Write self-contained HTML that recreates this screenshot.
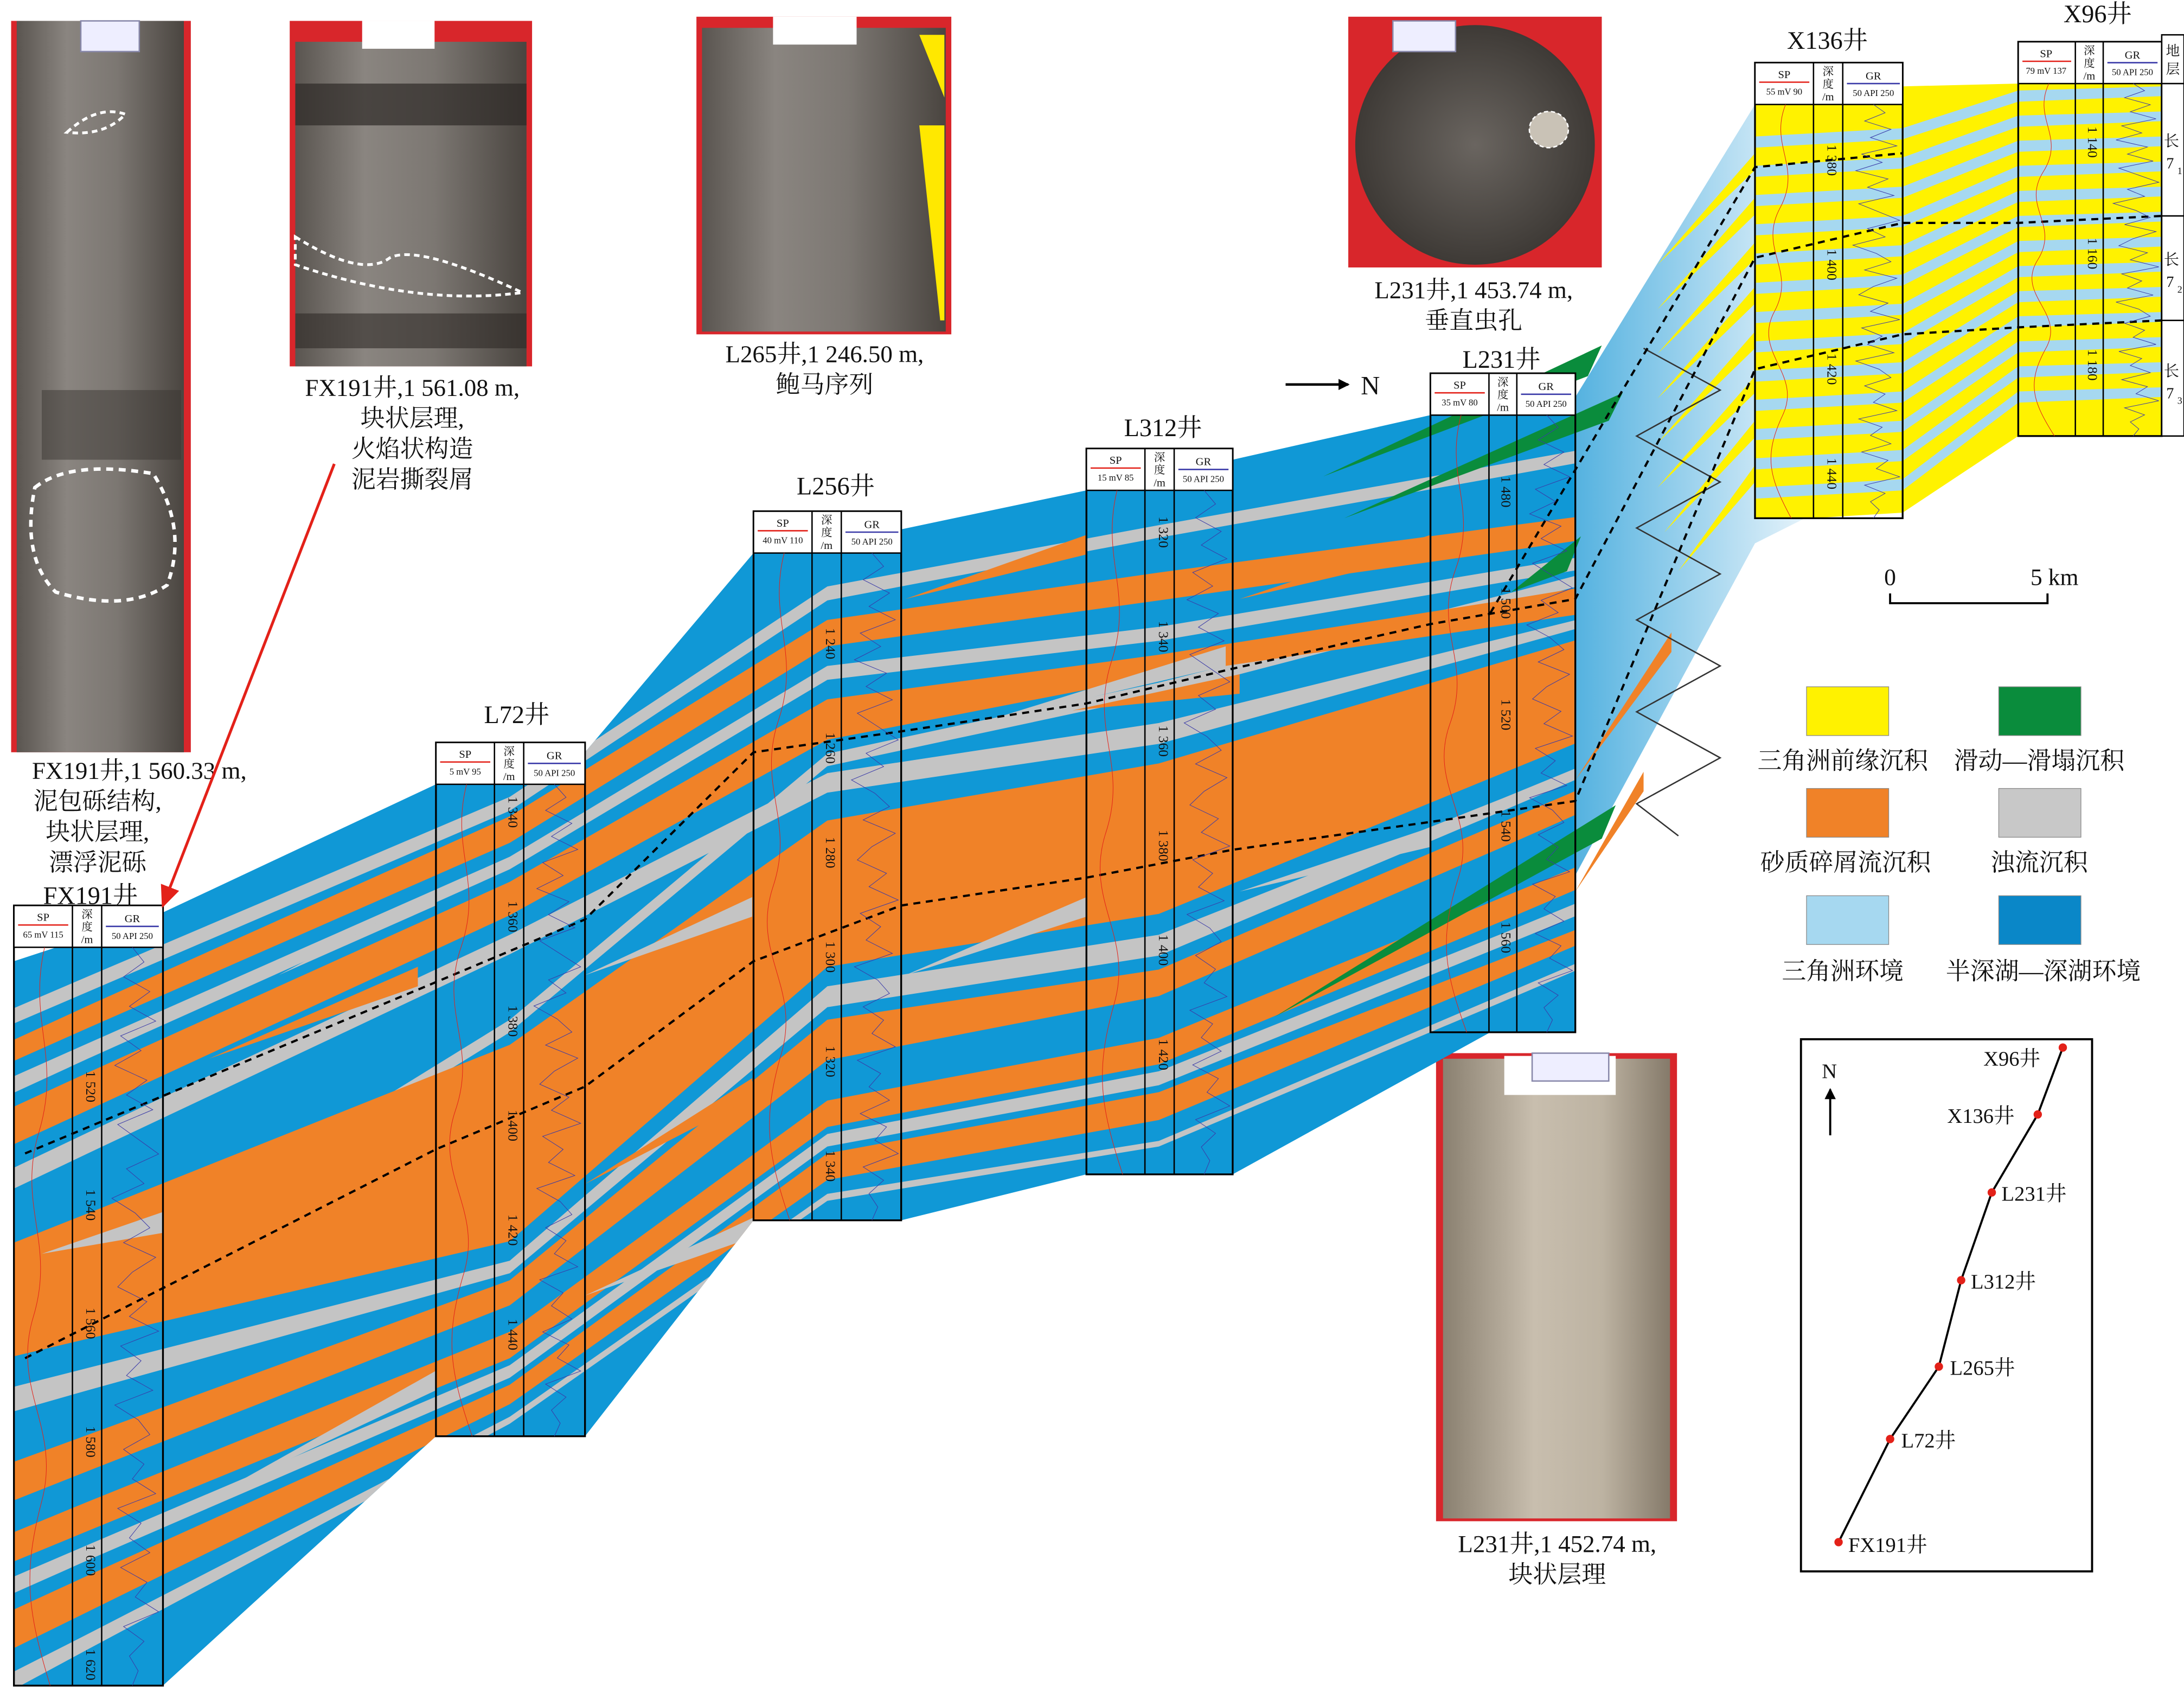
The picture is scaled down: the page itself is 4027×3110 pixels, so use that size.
<!DOCTYPE html>
<html><head><meta charset="utf-8">
<style>
html,body{margin:0;padding:0;background:#fff;}
svg{display:block;}
text{font-family:"Liberation Serif","Noto Serif CJK SC","Noto Sans CJK SC",serif;fill:#111;}
</style></head>
<body>
<svg xmlns="http://www.w3.org/2000/svg" xmlns:xlink="http://www.w3.org/1999/xlink" width="4027" height="3110" viewBox="0 0 1568 1211" preserveAspectRatio="none">
<defs>
<linearGradient id="gr" x1="0" y1="0" x2="1" y2="0">
<stop offset="0" stop-color="#1f9ad6"/><stop offset="1" stop-color="#e8f4fb"/>
</linearGradient>
<linearGradient id="cyl" x1="0" y1="0" x2="1" y2="0">
<stop offset="0" stop-color="#5a5550"/><stop offset="0.3" stop-color="#8a8580"/><stop offset="0.6" stop-color="#7c7772"/><stop offset="1" stop-color="#4a4540"/>
</linearGradient>
<linearGradient id="cyl2" x1="0" y1="0" x2="1" y2="0">
<stop offset="0" stop-color="#8a8070"/><stop offset="0.4" stop-color="#c8beae"/><stop offset="0.7" stop-color="#bdb3a2"/><stop offset="1" stop-color="#857a6a"/>
</linearGradient>
<radialGradient id="disc"><stop offset="0" stop-color="#6a6560"/><stop offset="1" stop-color="#3e3a36"/></radialGradient>
<marker id="ah" markerWidth="8" markerHeight="8" refX="7" refY="4" orient="auto" markerUnits="userSpaceOnUse"><path d="M0,0 L8,4 L0,8 z" fill="#000"/></marker>
<marker id="ahr" markerWidth="16" markerHeight="14" refX="14" refY="7" orient="auto" markerUnits="userSpaceOnUse"><path d="M0,0 L16,7 L0,14 z" fill="#e32119"/></marker>
<path id="gr1" d="M10,0 L14,2 L7,4 L16,6 L9,8 L18,10 L6,12 L13,14 L4,16 L15,18 L8,20 L17,22 L5,24 L12,26 L19,28 L8,30 L14,32 L3,34 L11,36 L16,38 L7,40 L18,42 L10,44 L5,46 L15,48 L9,50 L19,52 L6,54 L13,56 L8,58 L17,60 L4,62 L12,64 L16,66 L7,68 L14,70 L10,72 L18,74 L5,76 L13,78 L9,80 L16,82 L6,84 L15,86 L11,88 L19,90 L7,92 L14,94 L9,96 L12,98 L10,100" fill="none" stroke="#3a3aa8" stroke-width="1" vector-effect="non-scaling-stroke"/>
<path id="sp1" d="M10,0 C4,10 16,15 8,25 S14,40 6,50 S16,65 9,75 S4,90 12,100" fill="none" stroke="#e32119" stroke-width="1" vector-effect="non-scaling-stroke"/>
<clipPath id="sec"><polygon points="10,690 117,655 313,563 420,540 541,397 647,380 780,352 885,330 1027,298 1131,285 1131,741 1070,741 885,843 780,843 647,876 541,876 420,1031 313,1031 117,1210 10,1210"/></clipPath>
</defs>

<!-- photos -->
<rect x="8" y="15" width="129" height="525" fill="#d8262b"/>
<rect x="12" y="15" width="120" height="525" fill="url(#cyl)"/>
<path d="M48,95 Q70,75 90,82 Q75,98 48,95z" fill="none" stroke="#fff" stroke-width="2" stroke-dasharray="4,3"/>
<path d="M25,350 Q50,330 110,340 Q135,380 120,420 Q90,440 40,425 Q15,400 25,350z" fill="none" stroke="#fff" stroke-width="2.5" stroke-dasharray="5,4"/>
<rect x="30" y="280" width="100" height="50" fill="#3a3632" opacity="0.5"/>
<rect x="208" y="15" width="174" height="248" fill="#d8262b"/>
<rect x="212" y="30" width="166" height="233" fill="url(#cyl)"/>
<rect x="212" y="60" width="166" height="30" fill="#2e2a26" opacity="0.7"/>
<rect x="212" y="225" width="166" height="25" fill="#2e2a26" opacity="0.6"/>
<path d="M212,170 Q260,200 280,185 Q300,175 375,210 Q300,220 212,190z" fill="none" stroke="#fff" stroke-width="2" stroke-dasharray="4,3"/>
<rect x="500" y="12" width="183" height="228" fill="#d8262b"/>
<rect x="504" y="20" width="175" height="218" fill="url(#cyl)"/>
<path d="M660,25 L678,25 L678,70z" fill="#ffe800"/>
<path d="M660,90 L678,90 L678,230 L675,230z" fill="#ffe800"/>
<rect x="968" y="12" width="182" height="180" fill="#d8262b"/>
<circle cx="1059" cy="104" r="86" fill="url(#disc)"/>
<ellipse cx="1112" cy="93" rx="14" ry="13" fill="#c9c2b6" stroke="#fff" stroke-dasharray="3,2"/>
<rect x="1031" y="756" width="173" height="336" fill="#d8262b"/>
<rect x="1036" y="760" width="163" height="330" fill="url(#cyl2)"/>
<rect x="260" y="15" width="52" height="20" fill="#fff"/>
<rect x="555" y="12" width="60" height="20" fill="#fff"/>
<rect x="1080" y="758" width="80" height="28" fill="#fff"/>
<rect x="1100" y="756" width="55" height="20" fill="#eef" stroke="#88a"/>
<rect x="58" y="15" width="42" height="22" fill="#eef" stroke="#88a"/>
<rect x="1000" y="15" width="45" height="22" fill="#eef" stroke="#88a"/>

<!-- section -->
<polygon points="1100,298 1131,285 1260,75 1300,75 1300,370 1260,390 1070,741 1100,741" fill="url(#gr)"/>
<g clip-path="url(#sec)">
<rect x="0" y="250" width="1140" height="970" fill="#1098d6"/>
<g fill="#c4c4c4">
<polygon points="0,728 63,701 366,572 594,421 832,377 1079,333 1140,322 1140,331 1079,342 832,386 594,431 366,582 63,712 0,739"/>
<polygon points="0,777 63,749 366,615 594,478 832,450 1079,409 1140,399 1140,408 1079,418 832,460 594,488 366,624 63,760 0,789"/>
<polygon points="0,843 63,813 366,671 594,555 832,519 1079,458 1140,443 1140,449 1079,466 832,534 594,569 366,685 63,828 0,858"/>
<polygon points="0,998 63,982 366,905 594,708 832,671 1079,573 1140,548 1140,556 1079,582 832,686 594,723 366,914 63,998 0,1016"/>
<polygon points="0,1136 63,1109 366,980 594,814 832,769 1079,670 1140,645 1140,654 1079,679 832,779 594,823 366,989 63,1120 0,1148"/>
<polygon points="0,1205 63,1173 366,1017 594,857 832,819 1079,714 1140,688 1140,693 1079,719 832,823 594,862 366,1022 63,1184 0,1218"/>
<polygon points="0,958 63,919 366,732 594,541 832,490 1079,427 1140,411 1140,419 1079,435 832,499 594,550 366,741 63,929 0,969"/>
</g>
<g fill="#f08228">
<polygon points="0,751 63,722 366,586 594,445 832,411 1079,378 1140,370 1140,387 1079,396 832,431 594,464 366,605 63,738 0,766"/>
<polygon points="0,799 63,770 366,633 594,502 832,470 1079,431 1140,421 1140,440 1079,449 832,485 594,531 366,657 63,797 0,826"/>
<polygon points="0,896 63,871 366,750 594,589 832,548 1079,475 1140,457 1140,530 1079,555 832,656 594,694 366,891 63,961 0,976"/>
<polygon points="0,1053 63,1030 366,919 594,732 832,696 1079,590 1140,564 1140,581 1079,608 832,715 594,761 366,937 63,1056 0,1081"/>
<polygon points="0,1104 63,1078 366,956 594,790 832,745 1079,644 1140,619 1140,635 1079,661 832,764 594,809 366,975 63,1099 0,1125"/>
<polygon points="0,1160 63,1131 366,994 594,828 832,784 1079,688 1140,664 1140,675 1079,701 832,804 594,847 366,1008 63,1157 0,1188"/>
</g>
<!-- wedges -->
<polygon points="420,700 540,644 540,658" fill="#c4c4c4"/>
<polygon points="150,760 300,694 300,708" fill="#f08228"/>
<polygon points="650,430 780,384 780,398" fill="#f08228"/>
<polygon points="700,520 880,464 880,478" fill="#c4c4c4"/>
<polygon points="890,430 1027,384 1027,398" fill="#f08228"/>
<polygon points="420,850 540,774 540,788" fill="#f08228"/>
<polygon points="160,1070 313,984 313,998" fill="#c4c4c4"/>
<polygon points="650,700 780,644 780,658" fill="#c4c4c4"/>
<polygon points="890,640 1027,594 1027,608" fill="#c4c4c4"/>
<polygon points="420,930 541,874 541,888" fill="#c4c4c4"/>
<polygon points="770,510 890,484 890,498" fill="#f08228"/>
<polygon points="200,700 313,640 313,650" fill="#c4c4c4"/>
<polygon points="30,900 117,870 117,885" fill="#c4c4c4"/>
</g>
<polygon points="1131,560 1200,454 1200,468" fill="#f08228"/>
<polygon points="1131,640 1180,554 1180,568" fill="#f08228"/>
<g fill="#0a8c3c">
<polygon points="950,342 1150,248 1140,270"/>
<polygon points="965,372 1165,282 1155,302"/>
<polygon points="915,730 1160,578 1150,602"/>
<polygon points="1085,425 1135,385 1125,410"/>
</g>
<!-- yellow delta -->
<polygon points="1260,75 1366,62 1449,60 1552,58 1552,313 1449,313 1366,368 1300,372 1260,372" fill="#fff200"/>
<g fill="#a6d8f0">
<polygon points="1366,92 1449,65 1552,62 1552,69 1449,73 1366,100 1260,106 1260,98"/>
<polygon points="1366,113 1449,83 1552,80 1552,87 1449,91 1366,121 1260,127 1260,119"/>
<polygon points="1366,134 1449,101 1552,98 1552,105 1449,109 1366,142 1260,148 1260,140"/>
<polygon points="1366,155 1449,119 1552,116 1552,123 1449,127 1366,163 1260,169 1260,161"/>
<polygon points="1366,176 1449,137 1552,134 1552,141 1449,145 1366,184 1260,190 1260,182"/>
<polygon points="1366,197 1449,155 1552,152 1552,159 1449,163 1366,205 1260,211 1260,203"/>
<polygon points="1366,218 1449,173 1552,170 1552,177 1449,181 1366,226 1260,232 1260,224"/>
<polygon points="1366,239 1449,191 1552,188 1552,195 1449,199 1366,247 1260,253 1260,245"/>
<polygon points="1366,260 1449,209 1552,206 1552,213 1449,217 1366,268 1260,274 1260,266"/>
<polygon points="1366,281 1449,227 1552,224 1552,231 1449,235 1366,289 1260,295 1260,287"/>
<polygon points="1366,302 1449,245 1552,242 1552,249 1449,253 1366,310 1260,316 1260,308"/>
<polygon points="1366,323 1449,263 1552,260 1552,267 1449,271 1366,331 1260,337 1260,329"/>
<polygon points="1366,344 1449,281 1552,278 1552,285 1449,289 1366,352 1260,358 1260,350"/>
</g>
<g fill="#fff200">
<polygon points="1260,110 1190,190 1260,122"/>
<polygon points="1260,142 1190,222 1260,154"/>
<polygon points="1260,174 1190,254 1260,186"/>
<polygon points="1260,206 1190,286 1260,218"/>
<polygon points="1260,238 1190,318 1260,250"/>
<polygon points="1260,270 1190,350 1260,282"/>
<polygon points="1260,302 1195,382 1260,314"/>
<polygon points="1260,334 1205,410 1260,346"/>
</g>
<polyline points="1180,250 1235,280 1175,313 1235,346 1175,379 1235,412 1175,445 1235,478 1175,511 1235,544 1175,577 1205,600" fill="none" stroke="#333" stroke-width="1"/>
<g fill="none" stroke="#000" stroke-width="1.6" stroke-dasharray="5,4">
<polyline points="18,828 313,705 420,660 541,540 647,525 780,505 885,480 1027,448 1131,430 1260,185 1366,160 1449,160 1552,155"/>
<polyline points="18,975 313,825 420,780 541,690 647,650 780,630 885,610 1027,590 1131,575 1260,265 1366,240 1449,235 1552,230"/>
<polyline points="1070,440 1260,120 1366,110"/>
</g>

<!-- wells -->
<g stroke-width="1">
<g transform="translate(10,650)">
<rect width="107" height="560" fill="none" stroke="#000" stroke-width="1.3"/>
<rect width="107" height="30" fill="#fff" stroke="#000"/>
<line x1="42" y1="0" x2="42" y2="560" stroke="#000"/><line x1="63" y1="0" x2="63" y2="560" stroke="#000"/>
<text x="21" y="11" font-size="8" text-anchor="middle">SP</text><line x1="3" y1="14" x2="39" y2="14" stroke="#e32119"/>
<text x="21" y="23" font-size="6.5" text-anchor="middle">65 mV 115</text>
<text x="52.5" y="9" font-size="8" text-anchor="middle">深</text><text x="52.5" y="18" font-size="8" text-anchor="middle">度</text><text x="52.5" y="27" font-size="8" text-anchor="middle">/m</text>
<text x="85" y="12" font-size="8" text-anchor="middle">GR</text><line x1="66" y1="15" x2="104" y2="15" stroke="#3a3aa8"/>
<text x="85" y="24" font-size="6.5" text-anchor="middle">50 API 250</text>
<use xlink:href="#sp1" transform="translate(2,30) scale(2,5.3)"/>
<use xlink:href="#gr1" transform="translate(64,30) scale(2.1,5.3)"/>
<g font-size="10" text-anchor="middle">
<text transform="translate(52,130) rotate(90)">1 520</text><text transform="translate(52,215) rotate(90)">1 540</text><text transform="translate(52,300) rotate(90)">1 560</text><text transform="translate(52,385) rotate(90)">1 580</text><text transform="translate(52,470) rotate(90)">1 600</text><text transform="translate(52,545) rotate(90)">1 620</text>
</g></g>

<g transform="translate(313,533)">
<rect width="107" height="498" fill="none" stroke="#000" stroke-width="1.3"/>
<rect width="107" height="30" fill="#fff" stroke="#000"/>
<line x1="42" y1="0" x2="42" y2="498" stroke="#000"/><line x1="63" y1="0" x2="63" y2="498" stroke="#000"/>
<text x="21" y="11" font-size="8" text-anchor="middle">SP</text><line x1="3" y1="14" x2="39" y2="14" stroke="#e32119"/>
<text x="21" y="23" font-size="6.5" text-anchor="middle">5  mV  95</text>
<text x="52.5" y="9" font-size="8" text-anchor="middle">深</text><text x="52.5" y="18" font-size="8" text-anchor="middle">度</text><text x="52.5" y="27" font-size="8" text-anchor="middle">/m</text>
<text x="85" y="12" font-size="8" text-anchor="middle">GR</text><line x1="66" y1="15" x2="104" y2="15" stroke="#3a3aa8"/>
<text x="85" y="24" font-size="6.5" text-anchor="middle">50 API 250</text>
<use xlink:href="#sp1" transform="translate(2,30) scale(2,4.68)"/>
<use xlink:href="#gr1" transform="translate(64,30) scale(2.1,4.68)"/>
<g font-size="10" text-anchor="middle">
<text transform="translate(52,50) rotate(90)">1 340</text><text transform="translate(52,125) rotate(90)">1 360</text><text transform="translate(52,200) rotate(90)">1 380</text><text transform="translate(52,275) rotate(90)">1 400</text><text transform="translate(52,350) rotate(90)">1 420</text><text transform="translate(52,425) rotate(90)">1 440</text>
</g></g>

<g transform="translate(541,367)">
<rect width="106" height="509" fill="none" stroke="#000" stroke-width="1.3"/>
<rect width="106" height="30" fill="#fff" stroke="#000"/>
<line x1="42" y1="0" x2="42" y2="509" stroke="#000"/><line x1="63" y1="0" x2="63" y2="509" stroke="#000"/>
<text x="21" y="11" font-size="8" text-anchor="middle">SP</text><line x1="3" y1="14" x2="39" y2="14" stroke="#e32119"/>
<text x="21" y="23" font-size="6.5" text-anchor="middle">40 mV 110</text>
<text x="52.5" y="9" font-size="8" text-anchor="middle">深</text><text x="52.5" y="18" font-size="8" text-anchor="middle">度</text><text x="52.5" y="27" font-size="8" text-anchor="middle">/m</text>
<text x="85" y="12" font-size="8" text-anchor="middle">GR</text><line x1="66" y1="15" x2="104" y2="15" stroke="#3a3aa8"/>
<text x="85" y="24" font-size="6.5" text-anchor="middle">50 API 250</text>
<use xlink:href="#sp1" transform="translate(2,30) scale(2,4.79)"/>
<use xlink:href="#gr1" transform="translate(64,30) scale(2.1,4.79)"/>
<g font-size="10" text-anchor="middle">
<text transform="translate(52,95) rotate(90)">1 240</text><text transform="translate(52,170) rotate(90)">1 260</text><text transform="translate(52,245) rotate(90)">1 280</text><text transform="translate(52,320) rotate(90)">1 300</text><text transform="translate(52,395) rotate(90)">1 320</text><text transform="translate(52,470) rotate(90)">1 340</text>
</g></g>

<g transform="translate(780,322)">
<rect width="105" height="521" fill="none" stroke="#000" stroke-width="1.3"/>
<rect width="105" height="30" fill="#fff" stroke="#000"/>
<line x1="42" y1="0" x2="42" y2="521" stroke="#000"/><line x1="63" y1="0" x2="63" y2="521" stroke="#000"/>
<text x="21" y="11" font-size="8" text-anchor="middle">SP</text><line x1="3" y1="14" x2="39" y2="14" stroke="#e32119"/>
<text x="21" y="23" font-size="6.5" text-anchor="middle">15 mV 85</text>
<text x="52.5" y="9" font-size="8" text-anchor="middle">深</text><text x="52.5" y="18" font-size="8" text-anchor="middle">度</text><text x="52.5" y="27" font-size="8" text-anchor="middle">/m</text>
<text x="84" y="12" font-size="8" text-anchor="middle">GR</text><line x1="66" y1="15" x2="102" y2="15" stroke="#3a3aa8"/>
<text x="84" y="24" font-size="6.5" text-anchor="middle">50 API 250</text>
<use xlink:href="#sp1" transform="translate(2,30) scale(2,4.91)"/>
<use xlink:href="#gr1" transform="translate(64,30) scale(2.05,4.91)"/>
<g font-size="10" text-anchor="middle">
<text transform="translate(52,60) rotate(90)">1 320</text><text transform="translate(52,135) rotate(90)">1 340</text><text transform="translate(52,210) rotate(90)">1 360</text><text transform="translate(52,285) rotate(90)">1 380</text><text transform="translate(52,360) rotate(90)">1 400</text><text transform="translate(52,435) rotate(90)">1 420</text>
</g></g>

<g transform="translate(1027,268)">
<rect width="104" height="473" fill="none" stroke="#000" stroke-width="1.3"/>
<rect width="104" height="30" fill="#fff" stroke="#000"/>
<line x1="42" y1="0" x2="42" y2="473" stroke="#000"/><line x1="62" y1="0" x2="62" y2="473" stroke="#000"/>
<text x="21" y="11" font-size="8" text-anchor="middle">SP</text><line x1="3" y1="14" x2="39" y2="14" stroke="#e32119"/>
<text x="21" y="23" font-size="6.5" text-anchor="middle">35 mV 80</text>
<text x="52" y="9" font-size="8" text-anchor="middle">深</text><text x="52" y="18" font-size="8" text-anchor="middle">度</text><text x="52" y="27" font-size="8" text-anchor="middle">/m</text>
<text x="83" y="12" font-size="8" text-anchor="middle">GR</text><line x1="65" y1="15" x2="101" y2="15" stroke="#3a3aa8"/>
<text x="83" y="24" font-size="6.5" text-anchor="middle">50 API 250</text>
<use xlink:href="#sp1" transform="translate(2,30) scale(2,4.43)"/>
<use xlink:href="#gr1" transform="translate(63,30) scale(2.05,4.43)"/>
<g font-size="10" text-anchor="middle">
<text transform="translate(51,85) rotate(90)">1 480</text><text transform="translate(51,165) rotate(90)">1 500</text><text transform="translate(51,245) rotate(90)">1 520</text><text transform="translate(51,325) rotate(90)">1 540</text><text transform="translate(51,405) rotate(90)">1 560</text>
</g></g>

<g transform="translate(1260,45)">
<rect width="106" height="327" fill="none" stroke="#000" stroke-width="1.3"/>
<rect width="106" height="30" fill="#fff" stroke="#000"/>
<line x1="42" y1="0" x2="42" y2="327" stroke="#000"/><line x1="63" y1="0" x2="63" y2="327" stroke="#000"/>
<text x="21" y="11" font-size="8" text-anchor="middle">SP</text><line x1="3" y1="14" x2="39" y2="14" stroke="#e32119"/>
<text x="21" y="23" font-size="6.5" text-anchor="middle">55 mV 90</text>
<text x="52.5" y="9" font-size="8" text-anchor="middle">深</text><text x="52.5" y="18" font-size="8" text-anchor="middle">度</text><text x="52.5" y="27" font-size="8" text-anchor="middle">/m</text>
<text x="85" y="12" font-size="8" text-anchor="middle">GR</text><line x1="66" y1="15" x2="104" y2="15" stroke="#3a3aa8"/>
<text x="85" y="24" font-size="6.5" text-anchor="middle">50 API 250</text>
<use xlink:href="#sp1" transform="translate(2,30) scale(2,2.97)"/>
<use xlink:href="#gr1" transform="translate(64,30) scale(2.1,2.97)"/>
<g font-size="10" text-anchor="middle">
<text transform="translate(52,70) rotate(90)">1 380</text><text transform="translate(52,145) rotate(90)">1 400</text><text transform="translate(52,220) rotate(90)">1 420</text><text transform="translate(52,295) rotate(90)">1 440</text>
</g></g>

<g transform="translate(1449,30)">
<rect width="103" height="283" fill="none" stroke="#000" stroke-width="1.3"/>
<rect width="103" height="30" fill="#fff" stroke="#000"/>
<line x1="41" y1="0" x2="41" y2="283" stroke="#000"/><line x1="61" y1="0" x2="61" y2="283" stroke="#000"/>
<text x="20" y="11" font-size="8" text-anchor="middle">SP</text><line x1="3" y1="14" x2="38" y2="14" stroke="#e32119"/>
<text x="20" y="23" font-size="6.5" text-anchor="middle">79 mV 137</text>
<text x="51" y="9" font-size="8" text-anchor="middle">深</text><text x="51" y="18" font-size="8" text-anchor="middle">度</text><text x="51" y="27" font-size="8" text-anchor="middle">/m</text>
<text x="82" y="12" font-size="8" text-anchor="middle">GR</text><line x1="64" y1="15" x2="100" y2="15" stroke="#3a3aa8"/>
<text x="82" y="24" font-size="6.5" text-anchor="middle">50 API 250</text>
<use xlink:href="#sp1" transform="translate(2,30) scale(2,2.53)"/>
<use xlink:href="#gr1" transform="translate(62,30) scale(2.05,2.53)"/>
<g font-size="10" text-anchor="middle">
<text transform="translate(50,72) rotate(90)">1 140</text><text transform="translate(50,152) rotate(90)">1 160</text><text transform="translate(50,232) rotate(90)">1 180</text>
</g></g>
</g>

<!-- strat column -->
<rect x="1552" y="25" width="16" height="288" fill="#fff" stroke="#000"/>
<line x1="1552" y1="60" x2="1568" y2="60" stroke="#000"/><line x1="1552" y1="155" x2="1568" y2="155" stroke="#000"/><line x1="1552" y1="230" x2="1568" y2="230" stroke="#000"/>
<g font-size="10" text-anchor="middle">
<text x="1560" y="40">地</text><text x="1560" y="53">层</text>
<text x="1559" y="105" font-size="11">长</text><text x="1558" y="121" font-size="11">7</text><text x="1565" y="125" font-size="7">1</text>
<text x="1559" y="190" font-size="11">长</text><text x="1558" y="206" font-size="11">7</text><text x="1565" y="210" font-size="7">2</text>
<text x="1559" y="270" font-size="11">长</text><text x="1558" y="286" font-size="11">7</text><text x="1565" y="290" font-size="7">3</text>
</g>

<!-- captions -->
<g font-size="17.5" text-anchor="middle">
<text x="296" y="284">FX191井,1 561.08 m,</text><text x="296" y="306">块状层理,</text><text x="296" y="328">火焰状构造</text><text x="296" y="350">泥岩撕裂屑</text>
<text x="592" y="260">L265井,1 246.50 m,</text><text x="592" y="282">鲍马序列</text>
<text x="1058" y="214">L231井,1 453.74 m,</text><text x="1058" y="236">垂直虫孔</text>
<text x="100" y="559">FX191井,1 560.33 m,</text><text x="70" y="581">泥包砾结构,</text><text x="70" y="603">块状层理,</text><text x="70" y="625">漂浮泥砾</text>
<text x="1118" y="1114">L231井,1 452.74 m,</text><text x="1118" y="1136">块状层理</text>
<text x="65" y="649" font-size="18">FX191井</text>
<text x="371" y="519" font-size="18">L72井</text>
<text x="600" y="355" font-size="18">L256井</text>
<text x="835" y="313" font-size="18">L312井</text>
<text x="1078" y="264" font-size="18">L231井</text>
<text x="1312" y="35" font-size="18">X136井</text>
<text x="1506" y="16" font-size="18">X96井</text>
</g>
<line x1="240" y1="333" x2="117" y2="650" stroke="#e32119" stroke-width="2" marker-end="url(#ahr)"/>
<line x1="923" y1="276" x2="968" y2="276" stroke="#000" stroke-width="1.8" marker-end="url(#ah)"/>
<text x="977" y="283" font-size="19">N</text>

<!-- scale -->
<text x="1357" y="420" font-size="17" text-anchor="middle">0</text>
<text x="1475" y="420" font-size="17" text-anchor="middle">5 km</text>
<path d="M1357,426 V433 H1470 V426" fill="none" stroke="#000" stroke-width="1.5"/>

<!-- legend -->
<rect x="1297" y="493" width="59" height="35" fill="#fff200" stroke="#888" stroke-width="0.5"/>
<rect x="1435" y="493" width="59" height="35" fill="#0a8c3c" stroke="#888" stroke-width="0.5"/>
<rect x="1297" y="566" width="59" height="35" fill="#f08228" stroke="#888" stroke-width="0.5"/>
<rect x="1435" y="566" width="59" height="35" fill="#c8c8c8" stroke="#888" stroke-width="0.5"/>
<rect x="1297" y="643" width="59" height="35" fill="#a6d8f0" stroke="#888" stroke-width="0.5"/>
<rect x="1435" y="643" width="59" height="35" fill="#0a87c8" stroke="#888" stroke-width="0.5"/>
<g font-size="17.5" text-anchor="middle">
<text x="1323" y="552">三角洲前缘沉积</text><text x="1464" y="552">滑动—滑塌沉积</text>
<text x="1325" y="625">砂质碎屑流沉积</text><text x="1464" y="625">浊流沉积</text>
<text x="1323" y="703">三角洲环境</text><text x="1467" y="703">半深湖—深湖环境</text>
</g>

<!-- map -->
<rect x="1293" y="746" width="209" height="382" fill="#fff" stroke="#000" stroke-width="1.5"/>
<polyline points="1481,752 1463,800 1430,856 1408,919 1392,981 1357,1033 1320,1107" fill="none" stroke="#000" stroke-width="1.5"/>
<g fill="#e32119">
<circle cx="1481" cy="752" r="3"/><circle cx="1463" cy="800" r="3"/><circle cx="1430" cy="856" r="3"/><circle cx="1408" cy="919" r="3"/><circle cx="1392" cy="981" r="3"/><circle cx="1357" cy="1033" r="3"/><circle cx="1320" cy="1107" r="3"/>
</g>
<g font-size="15">
<text x="1424" y="765">X96井</text><text x="1398" y="806">X136井</text><text x="1437" y="862">L231井</text><text x="1415" y="925">L312井</text><text x="1400" y="987">L265井</text><text x="1365" y="1039">L72井</text><text x="1327" y="1114">FX191井</text>
<text x="1308" y="774">N</text>
</g>
<line x1="1314" y1="815" x2="1314" y2="782" stroke="#000" stroke-width="1.5" marker-end="url(#ah)"/>
</svg>
</body></html>
